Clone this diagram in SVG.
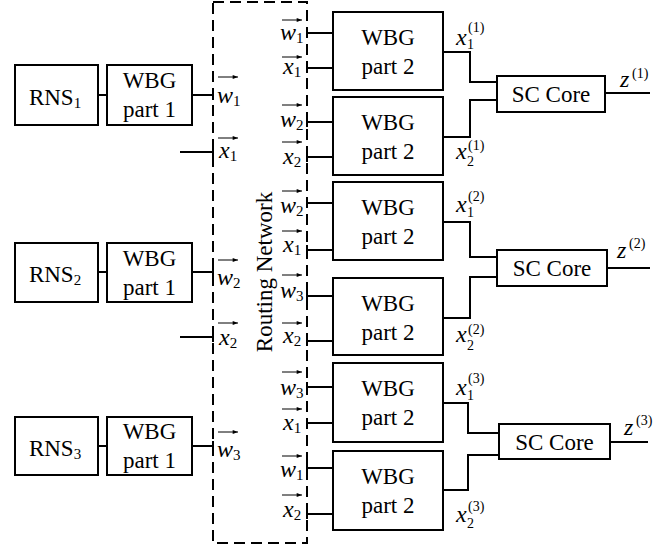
<svg xmlns="http://www.w3.org/2000/svg" width="670" height="553" viewBox="0 0 670 553">
<defs>
<marker id="ah" viewBox="0 0 8 6" refX="8" refY="3" markerWidth="6" markerHeight="4" markerUnits="userSpaceOnUse" orient="auto"><path d="M0,0 L8,3 L0,6 Z" fill="#000"/></marker>
<style>
text{font-family:"Liberation Serif","Times New Roman","DejaVu Serif",serif;fill:#000}
.box{fill:#fff;stroke:#000;stroke-width:2}
.ln{fill:none;stroke:#000;stroke-width:2}
.dash{fill:none;stroke:#000;stroke-width:2;stroke-dasharray:11,6}
.t{font-size:23px;text-anchor:middle}
.v{font-size:24px;font-style:italic}
.n{font-size:14px}
.s{font-size:15px;font-style:normal}
.vec{stroke:#000;stroke-width:1;fill:none;marker-end:url(#ah)}
</style>
</defs>
<g font-family="Liberation Serif, Times New Roman, serif">
<g id="routing">
<rect class="dash" x="213" y="2" width="94" height="541"/>
<text class="t" transform="translate(272,272) rotate(-90)">Routing Network</text>
</g>
<g id="rns1"><rect class="box" x="15" y="65" width="83" height="60"/><text class="t" x="55" y="105">RNS<tspan class="s" dy="3">1</tspan></text></g>
<g id="wbg1-1"><rect class="box" x="107" y="65" width="85" height="60"/><text class="t" x="149.5" y="88">WBG</text><text class="t" x="149.5" y="117">part 1</text></g>
<g id="rns2"><rect class="box" x="15" y="243" width="83" height="59"/><text class="t" x="55" y="282">RNS<tspan class="s" dy="3">2</tspan></text></g>
<g id="wbg1-2"><rect class="box" x="107" y="243" width="85" height="59"/><text class="t" x="149.5" y="266">WBG</text><text class="t" x="149.5" y="295">part 1</text></g>
<g id="rns3"><rect class="box" x="15" y="417" width="83" height="58"/><text class="t" x="55" y="456">RNS<tspan class="s" dy="3">3</tspan></text></g>
<g id="wbg1-3"><rect class="box" x="107" y="417" width="85" height="58"/><text class="t" x="149.5" y="439">WBG</text><text class="t" x="149.5" y="468">part 1</text></g>
<g id="wbg2-1"><rect class="box" x="333" y="12" width="110" height="78"/><text class="t" x="388" y="45">WBG</text><text class="t" x="388" y="74">part 2</text></g>
<g id="wbg2-2"><rect class="box" x="333" y="97" width="110" height="78"/><text class="t" x="388" y="130">WBG</text><text class="t" x="388" y="159">part 2</text></g>
<g id="wbg2-3"><rect class="box" x="333" y="182" width="110" height="78"/><text class="t" x="388" y="215">WBG</text><text class="t" x="388" y="244">part 2</text></g>
<g id="wbg2-4"><rect class="box" x="333" y="278" width="110" height="77"/><text class="t" x="388" y="311">WBG</text><text class="t" x="388" y="340">part 2</text></g>
<g id="wbg2-5"><rect class="box" x="333" y="363" width="110" height="79"/><text class="t" x="388" y="396">WBG</text><text class="t" x="388" y="425">part 2</text></g>
<g id="wbg2-6"><rect class="box" x="333" y="451" width="110" height="79"/><text class="t" x="388" y="484">WBG</text><text class="t" x="388" y="513">part 2</text></g>
<g id="sc1"><rect class="box" x="497" y="76" width="108" height="36"/><text class="t" x="551" y="102">SC Core</text></g>
<g id="sc2"><rect class="box" x="497" y="250" width="110" height="36"/><text class="t" x="552" y="276">SC Core</text></g>
<g id="sc3"><rect class="box" x="499" y="424" width="111" height="35"/><text class="t" x="554.5" y="450">SC Core</text></g>
<g id="connectors">
<path class="ln" d="M98 95H107M192 95H213M180 152H213M98 272H107M192 272H213M180 337H213M98 446H107M192 446H213"/>
<path class="ln" d="M213 90V100M213 147V157M213 267V277M213 332V342M213 441V451"/>
<path class="ln" d="M307 33H333M307 68H333M307 122H333M307 157H333M307 203H333M307 250H333M307 296H333M307 341H333M307 387H333M307 423H333M307 468H333M307 514H333"/>
<path class="ln" d="M307 28V38M307 63V73M307 117V127M307 152V162M307 198V208M307 245V255M307 291V301M307 336V346M307 382V392M307 418V428M307 463V473M307 509V519"/>
<path class="ln" d="M443 52H470V82H497M443 137H470V100H497M605 93H650"/>
<path class="ln" d="M443 222H470V257H497M443 318H470V277H497M607 268H650"/>
<path class="ln" d="M443 403H468V433H499M443 490H468V455H499M610 442H648"/>
</g>
<g id="labels">
<line class="vec" x1="218" y1="77" x2="238" y2="77"/>
<line class="vec" x1="218" y1="138" x2="238" y2="138"/>
<line class="vec" x1="218" y1="260" x2="238" y2="260"/>
<line class="vec" x1="218" y1="323" x2="238" y2="323"/>
<line class="vec" x1="218" y1="432" x2="238" y2="432"/>
<text class="v" x="217" y="103">w<tspan class="s" dy="3">1</tspan></text>
<text class="v" x="219" y="158">x<tspan class="s" dy="3">1</tspan></text>
<text class="v" x="217" y="285">w<tspan class="s" dy="3">2</tspan></text>
<text class="v" x="219" y="345">x<tspan class="s" dy="3">2</tspan></text>
<text class="v" x="217" y="457">w<tspan class="s" dy="3">3</tspan></text>
<line class="vec" x1="282" y1="20" x2="302" y2="20"/>
<line class="vec" x1="282" y1="57" x2="302" y2="57"/>
<line class="vec" x1="282" y1="105" x2="302" y2="105"/>
<line class="vec" x1="282" y1="142" x2="302" y2="142"/>
<line class="vec" x1="282" y1="191" x2="302" y2="191"/>
<line class="vec" x1="282" y1="231" x2="302" y2="231"/>
<line class="vec" x1="282" y1="275" x2="302" y2="275"/>
<line class="vec" x1="282" y1="323" x2="302" y2="323"/>
<line class="vec" x1="282" y1="372" x2="302" y2="372"/>
<line class="vec" x1="282" y1="409" x2="302" y2="409"/>
<line class="vec" x1="282" y1="456" x2="302" y2="456"/>
<line class="vec" x1="282" y1="495" x2="302" y2="495"/>
<text class="v" x="280" y="40">w<tspan class="s" dy="3">1</tspan></text>
<text class="v" x="283" y="74">x<tspan class="s" dy="3">1</tspan></text>
<text class="v" x="280" y="127">w<tspan class="s" dy="3">2</tspan></text>
<text class="v" x="283" y="164">x<tspan class="s" dy="3">2</tspan></text>
<text class="v" x="280" y="213">w<tspan class="s" dy="3">2</tspan></text>
<text class="v" x="283" y="252">x<tspan class="s" dy="3">1</tspan></text>
<text class="v" x="280" y="298">w<tspan class="s" dy="3">3</tspan></text>
<text class="v" x="283" y="343">x<tspan class="s" dy="3">2</tspan></text>
<text class="v" x="280" y="395">w<tspan class="s" dy="3">3</tspan></text>
<text class="v" x="283" y="430">x<tspan class="s" dy="3">1</tspan></text>
<text class="v" x="280" y="477">w<tspan class="s" dy="3">1</tspan></text>
<text class="v" x="283" y="517">x<tspan class="s" dy="3">2</tspan></text>
<text class="v" x="456" y="45">x</text><text class="n" x="467" y="49">1</text><text class="n" x="468" y="32">(1)</text>
<text class="v" x="456" y="159">x</text><text class="n" x="467" y="166">2</text><text class="n" x="468" y="150">(1)</text>
<text class="v" x="620" y="87">z</text><text class="n" x="632" y="78">(1)</text>
<text class="v" x="456" y="212">x</text><text class="n" x="467" y="217">1</text><text class="n" x="468" y="201">(2)</text>
<text class="v" x="456" y="342">x</text><text class="n" x="467" y="350">2</text><text class="n" x="468" y="334">(2)</text>
<text class="v" x="617" y="258">z</text><text class="n" x="629" y="248">(2)</text>
<text class="v" x="456" y="395">x</text><text class="n" x="467" y="400">1</text><text class="n" x="468" y="383">(3)</text>
<text class="v" x="456" y="522">x</text><text class="n" x="467" y="528">2</text><text class="n" x="468" y="511">(3)</text>
<text class="v" x="624" y="435">z</text><text class="n" x="636" y="425">(3)</text>
</g>
</g>
</svg>
